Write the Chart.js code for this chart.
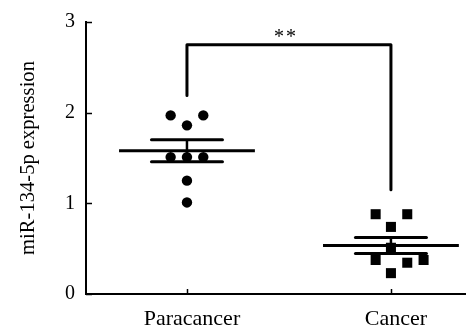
<!DOCTYPE html>
<html>
<head>
<meta charset="utf-8">
<script src="https://cdn.jsdelivr.net/npm/chart.js@4.4.1/dist/chart.umd.min.js"></script>
<style>
html,body{margin:0;padding:0;background:#fff;}
#wrap{width:466px;height:329px;}
</style>
</head>
<body>
<div id="wrap"><canvas id="c" width="466" height="329"></canvas></div>
<script>
// ---- data ----
const categories = ['Paracancer', 'Cancer'];
const yTicks = [0, 1, 2, 3];
const paracancerValues = [1.97, 1.97, 1.86, 1.51, 1.51, 1.51, 1.25, 1.01];
const paracancerJitter = [-0.08, 0.08, 0, -0.08, 0, 0.08, 0, 0];
const cancerValues = [0.88, 0.88, 0.74, 0.51, 0.375, 0.345, 0.375, 0.23];
const cancerJitter = [-0.075, 0.08, 0, 0, -0.075, 0.08, 0.16, 0];
const groupMeans = [1.58, 0.535];
const groupSems = [0.122, 0.088];
const significanceLabel = '**';
const bracketTop = 2.75;
const bracketLegBottoms = [2.19, 1.15];
const yTitle = 'miR-134-5p expression';

// ---- build datasets ----
const catX = categories.map((c, i) => i + 1);
const meanHalf = 0.333, semHalf = 0.174;

function pts(vals, jit, cx) { return vals.map((v, i) => ({x: cx + jit[i], y: v})); }

const datasets = [];
groupMeans.forEach((m, i) => {
  const cx = catX[i], s = groupSems[i];
  datasets.push({type: 'scatter', data: [{x: cx - meanHalf, y: m}, {x: cx + meanHalf, y: m}], showLine: true, borderColor: '#000', borderWidth: 3, pointRadius: 0, borderCapStyle: 'butt'});
  datasets.push({type: 'scatter', data: [{x: cx - semHalf, y: m + s}, {x: cx + semHalf, y: m + s}], showLine: true, borderColor: '#000', borderWidth: 3, pointRadius: 0, borderCapStyle: 'round'});
  datasets.push({type: 'scatter', data: [{x: cx - semHalf, y: m - s}, {x: cx + semHalf, y: m - s}], showLine: true, borderColor: '#000', borderWidth: 3, pointRadius: 0, borderCapStyle: 'round'});
  datasets.push({type: 'scatter', data: [{x: cx, y: m - s}, {x: cx, y: m + s}], showLine: true, borderColor: '#000', borderWidth: 2.5, pointRadius: 0});
});
datasets.push({type: 'scatter', data: [
  {x: catX[0], y: bracketLegBottoms[0]}, {x: catX[0], y: bracketTop},
  {x: catX[1], y: bracketTop}, {x: catX[1], y: bracketLegBottoms[1]}],
  showLine: true, borderColor: '#000', borderWidth: 3, pointRadius: 0, borderCapStyle: 'round', borderJoinStyle: 'round', tension: 0});
datasets.push({type: 'scatter', data: pts(paracancerValues, paracancerJitter, catX[0]), pointStyle: 'circle', pointRadius: 5.2, backgroundColor: '#000', borderColor: '#000', borderWidth: 0});
datasets.push({type: 'scatter', data: pts(cancerValues, cancerJitter, catX[1]), pointStyle: 'rect', pointRadius: 7.1, backgroundColor: '#000', borderColor: '#000', borderWidth: 0});

const serif = "'Liberation Serif', 'Times New Roman', serif";

const decorations = {
  id: 'decorations',
  afterDraw(chart) {
    const {ctx, scales: {x, y}} = chart;
    ctx.save();
    ctx.strokeStyle = '#000';
    ctx.lineWidth = 1.5;
    yTicks.forEach(v => {
      const py = Math.round(y.getPixelForValue(v)) + 0.5;
      ctx.beginPath(); ctx.moveTo(x.left, py); ctx.lineTo(x.left + 6, py); ctx.stroke();
    });
    catX.forEach(v => {
      const px = Math.round(x.getPixelForValue(v)) + 0.5;
      ctx.beginPath(); ctx.moveTo(px, y.bottom); ctx.lineTo(px, y.bottom - 5); ctx.stroke();
    });
    ctx.fillStyle = '#000';
    ctx.font = '20px ' + serif;
    ctx.textAlign = 'center';
    ctx.textBaseline = 'alphabetic';
    try { ctx.letterSpacing = '2px'; } catch (e) {}
    const mx = x.getPixelForValue((catX[0] + catX[1]) / 2) - 3;
    ctx.fillText(significanceLabel, mx, y.getPixelForValue(bracketTop) - 2);
    ctx.restore();
  }
};

new Chart(document.getElementById('c'), {
  type: 'scatter',
  data: {datasets},
  plugins: [decorations],
  options: {
    responsive: false,
    animation: false,
    layout: {autoPadding: false, padding: {top: 22, right: 0, bottom: 0, left: 6}},
    plugins: {legend: {display: false}, tooltip: {enabled: false}},
    scales: {
      x: {
        type: 'linear', min: 0.505, max: 2.368,
        afterBuildTicks(scale) { scale.ticks = catX.map(v => ({value: v})); },
        afterFit(scale) { scale.height = 329 - 294; scale.paddingRight = 0; scale.paddingLeft = 0; },
        ticks: {autoSkip: false, color: '#000', padding: 12, labelOffset: 5, font: {family: serif, size: 22},
          callback: (v) => categories[Math.round(v) - 1] || ''},
        grid: {display: true, drawOnChartArea: false, drawTicks: false},
        border: {display: true, color: '#000', width: 2}
      },
      y: {
        min: 0, max: 3,
        afterBuildTicks(scale) { scale.ticks = yTicks.map(v => ({value: v})); },
        afterFit(scale) { scale.width = 86 - 6; scale.paddingTop = 0; scale.paddingBottom = 0; },
        ticks: {color: '#000', padding: 11, font: {family: serif, size: 20}},
        grid: {display: true, drawOnChartArea: false, drawTicks: false},
        border: {display: true, color: '#000', width: 2},
        title: {display: true, text: yTitle, color: '#000', font: {family: serif, size: 20.6}, padding: {top: 10, bottom: 4}}
      }
    }
  }
});
</script>
</body>
</html>
